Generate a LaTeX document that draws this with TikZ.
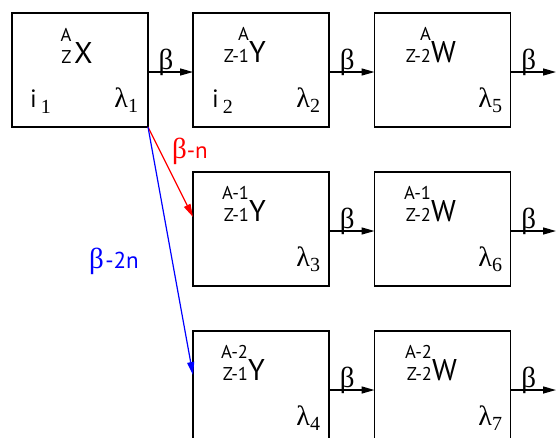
\documentclass[tikz,border=0pt]{standalone}
\usepackage{fontspec}
\setmainfont{PT Sans}
\newfontfamily\grk{Liberation Serif}
\usetikzlibrary{arrows.meta}

\newcommand\nucbig{\fontsize{30}{30}\selectfont}
\newcommand\nucsmall{\fontsize{18.5}{22}\selectfont}
\newcommand\nuclide[4][0pt]{\llap{\nucsmall\begin{tabular}[b]{@{}r@{}}#2\\#3\end{tabular}\hspace{#1}}{\nucbig #4}}
\newcommand\lam[1]{{\grk\fontsize{28}{28}\selectfont λ\raisebox{-5pt}{\fontsize{20}{20}\selectfont #1}}}
\newcommand\idx[1]{{\fontsize{25}{25}\selectfont i\,\raisebox{-6pt}{\grk\fontsize{20}{20}\selectfont #1}}}
\newcommand\bet{{\grk\fontsize{29}{29}\selectfont β}}

\begin{document}
\begin{tikzpicture}[x=1pt,y=-1pt,
  box/.style={draw, line width=1.4pt, minimum width=136pt, minimum height=114pt, inner sep=0pt, outer sep=0pt},
  arr/.style={line width=1.4pt, -{Triangle[length=13pt,width=7pt]}},
  carr/.style={line width=1.2pt, -{Triangle[length=13pt,width=7pt]}},
  lbl/.style={inner sep=0pt, outer sep=0pt},
  ]
\useasboundingbox (0,0) rectangle (556,437);

% boxes
\node[box] (X)  at (80,70) {};
\node[box] (Y1) at (261,70) {};
\node[box] (W1) at (442.5,70) {};
\node[box] (Y2) at (261,229) {};
\node[box] (W2) at (442.5,229) {};
\node[box] (Y3) at (261,388) {};
\node[box] (W3) at (442.5,388) {};

% nuclide labels
\node[lbl, anchor=base west] (nX)  at (74,63)  {\nuclide[2.5pt]{A}{Z}{X}};
\node[lbl, anchor=base west] (nY1) at (249,62) {\nuclide{A}{Z-1}{Y}};
\node[lbl, anchor=base west] (nW1) at (431,62) {\nuclide{A}{Z-2}{W}};
\node[lbl, anchor=base west] (nY2) at (249,221) {\nuclide{A-1}{Z-1}{Y}};
\node[lbl, anchor=base west] (nW2) at (431,221) {\nuclide{A-1}{Z-2}{W}};
\node[lbl, anchor=base west] (nY3) at (248,380) {\nuclide{A-2}{Z-1}{Y}};
\node[lbl, anchor=base west] (nW3) at (432,380) {\nuclide{A-2}{Z-2}{W}};

% i labels
\node[lbl, anchor=base west] (i1) at (30,107) {\idx{1}};
\node[lbl, anchor=base west] (i2) at (212,107) {\idx{2}};

% lambda labels
\node[lbl, anchor=base east] (l1) at (138,107) {\lam{1}};
\node[lbl, anchor=base east] (l2) at (320,107) {\lam{2}};
\node[lbl, anchor=base east] (l5) at (502,107) {\lam{5}};
\node[lbl, anchor=base east] (l3) at (320,266) {\lam{3}};
\node[lbl, anchor=base east] (l6) at (502,266) {\lam{6}};
\node[lbl, anchor=base east] (l4) at (320,425) {\lam{4}};
\node[lbl, anchor=base east] (l7) at (502,425) {\lam{7}};

% free ends
\coordinate (e1) at (556,72);
\coordinate (e2) at (556,231);
\coordinate (e3) at (556,390);

% beta arrows
\draw[arr] ([yshift=-2pt]X.east) -- node[lbl, pos=0.4, anchor=base, yshift=3pt] (b1) {\bet} ([yshift=-2pt]Y1.west);
\draw[arr] ([yshift=-2pt]Y1.east) -- node[lbl, pos=0.4, anchor=base, yshift=3pt] (b2) {\bet} ([yshift=-2pt]W1.west);
\draw[arr] ([yshift=-2pt]W1.east) -- node[lbl, pos=0.4, anchor=base, yshift=3pt] (b3) {\bet} (e1);
\draw[arr] ([yshift=-2pt]Y2.east) -- node[lbl, pos=0.4, anchor=base, yshift=3pt] (b4) {\bet} ([yshift=-2pt]W2.west);
\draw[arr] ([yshift=-2pt]W2.east) -- node[lbl, pos=0.4, anchor=base, yshift=3pt] (b5) {\bet} (e2);
\draw[arr] ([yshift=-2pt]Y3.east) -- node[lbl, pos=0.4, anchor=base, yshift=3pt] (b6) {\bet} ([yshift=-2pt]W3.west);
\draw[arr] ([yshift=-2pt]W3.east) -- node[lbl, pos=0.4, anchor=base, yshift=3pt] (b7) {\bet} (e3);

% branch arrows
\draw[carr, red] (X.south east) -- ([yshift=12pt]Y2.west);
\draw[carr, blue] (X.south east) -- ([yshift=13pt]Y3.west);

\node[lbl, anchor=base west, text=red] (bn) at (172,158) {\bet\fontsize{23}{23}\selectfont -n};
\node[lbl, anchor=base west, text=blue] (b2n) at (89,268) {\bet\,\fontsize{23}{23}\selectfont -2n};
\end{tikzpicture}
\end{document}
